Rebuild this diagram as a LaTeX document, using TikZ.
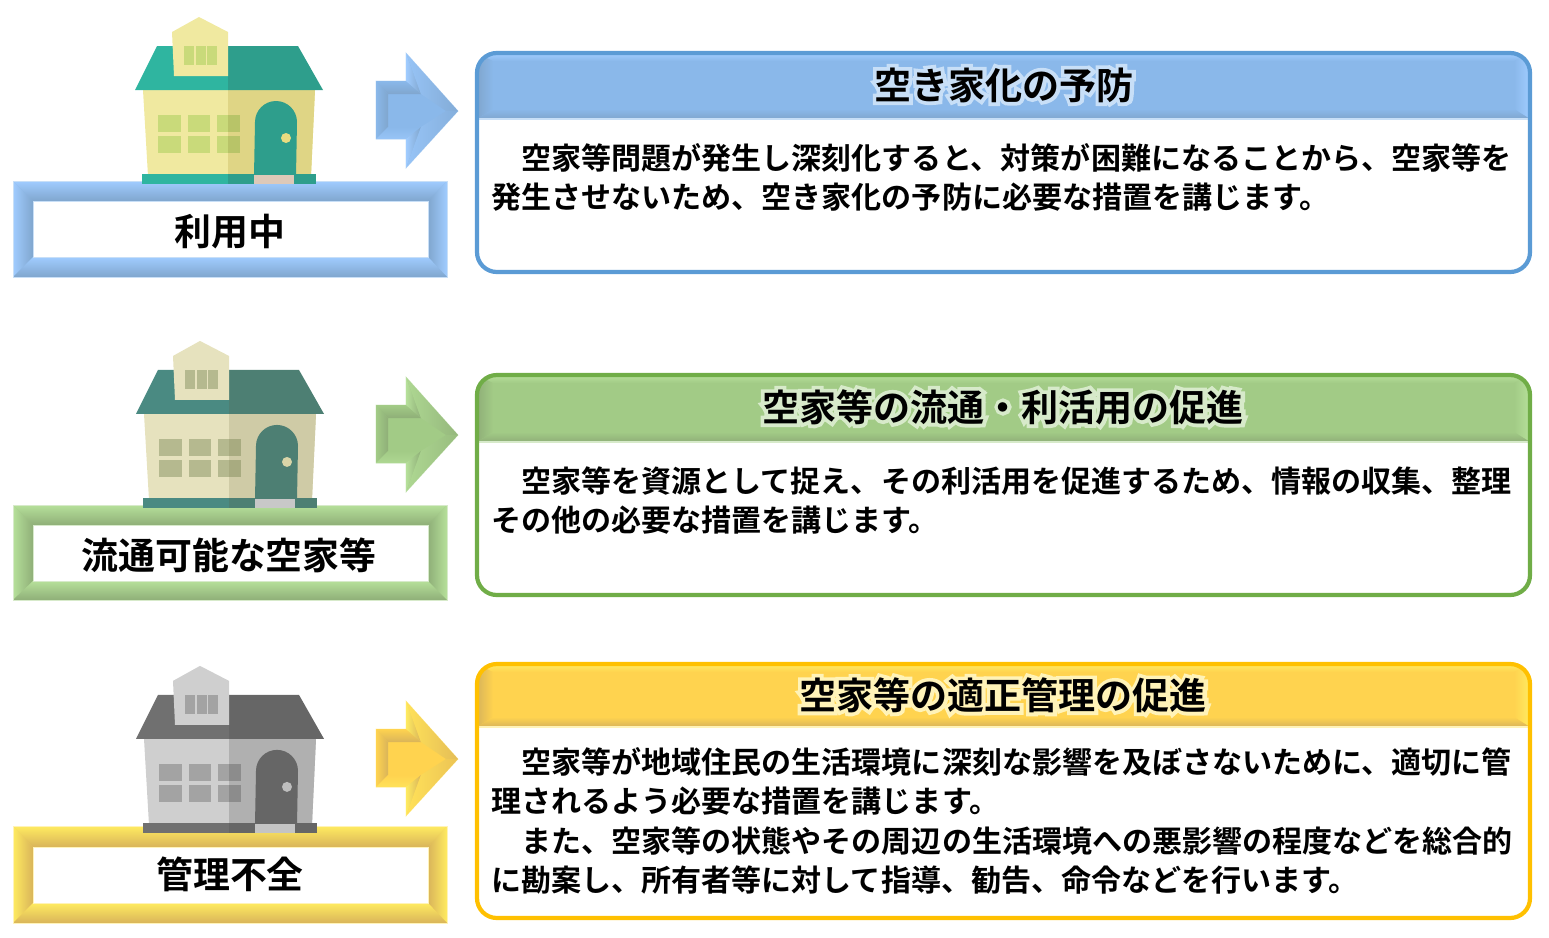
\documentclass[tikz,border=0pt]{standalone}
\usepackage{fontspec}
\setmainfont{Noto Sans CJK JP}[BoldFont={Noto Sans CJK JP Bold}]
\newfontfamily\glowfont{Noto Sans CJK JP Bold}[FakeBold=20]

% Row colours: A blue, B green, C yellow
\definecolor{faceA}{HTML}{8AB8EA}\definecolor{liteA}{HTML}{A0CCFF}
\definecolor{darkA}{HTML}{80A6CE}\definecolor{lineA}{HTML}{5B9BD5}
\definecolor{paleA}{HTML}{C8DFF7}
\definecolor{faceB}{HTML}{A2CB86}\definecolor{liteB}{HTML}{B6E09A}
\definecolor{darkB}{HTML}{8FAF78}\definecolor{lineB}{HTML}{70AD47}
\definecolor{paleB}{HTML}{D7EACA}
\definecolor{faceC}{HTML}{FFD34F}\definecolor{liteC}{HTML}{FFEB60}
\definecolor{darkC}{HTML}{D9B45A}\definecolor{lineC}{HTML}{FFC000}
\definecolor{paleC}{HTML}{FFF3B8}
% House colours
\definecolor{roofA}{HTML}{2FB5A0}\definecolor{roofdA}{HTML}{2E9E8C}
\definecolor{wallA}{HTML}{F0E9A0}\definecolor{walldA}{HTML}{DFD585}
\definecolor{winA}{HTML}{C9DA7A}\definecolor{windA}{HTML}{B8C468}
\definecolor{stepA}{HTML}{DDC9B8}\definecolor{knobA}{HTML}{E8DC80}
\definecolor{roofB}{HTML}{4A8A82}\definecolor{roofdB}{HTML}{4D7F73}
\definecolor{wallB}{HTML}{E6E2BE}\definecolor{walldB}{HTML}{CFCBA6}
\definecolor{winB}{HTML}{B5B98F}\definecolor{windB}{HTML}{A8AB80}
\definecolor{stepB}{HTML}{C8C8C8}\definecolor{knobB}{HTML}{D9D5A8}
\definecolor{roofC}{HTML}{707070}\definecolor{roofdC}{HTML}{666666}
\definecolor{wallC}{HTML}{CFCFCF}\definecolor{walldC}{HTML}{B0B0B0}
\definecolor{winC}{HTML}{A3A3A3}\definecolor{windC}{HTML}{8C8C8C}
\definecolor{stepC}{HTML}{C4C4C4}\definecolor{knobC}{HTML}{BEBEBE}

% #1 row letter
\newcommand{\houseicon}[1]{
  \fill[wall#1] (143,90) -- (315,90) -- (311,176) -- (148,176) -- cycle;
  \fill[walld#1] (228,90) -- (315,90) -- (311,176) -- (228,176) -- cycle;
  \fill[roof#1] (157,46) -- (228,46) -- (228,90) -- (135,90) -- cycle;
  \fill[roofd#1] (228,46) -- (298,46) -- (323,90) -- (228,90) -- cycle;
  \fill[wall#1] (172,32) -- (199,17) -- (228,32) -- (228,76) -- (174,76) -- cycle;
  \foreach \winx in {184,196,207} \fill[win#1] (\winx,46) rectangle +(10,19);
  \foreach \winy in {115,136} {
    \fill[win#1] (158,\winy) rectangle +(23,17);
    \fill[win#1] (188,\winy) rectangle +(22,17);
    \fill[win#1] (217,\winy) rectangle +(11,17);
    \fill[wind#1] (228,\winy) rectangle +(12,17);
  }
  \fill[roofd#1] (254,176) -- (255,122) arc[start angle=180,end angle=0,x radius=21,y radius=-21]
    -- (296,176) -- cycle;
  \fill[knob#1] (286,138) circle (5);
  \fill[roof#1] (142,174) rectangle (228,184);
  \fill[roofd#1] (228,174) rectangle (316,184);
  \fill[step#1] (254,175) rectangle (294,184);
}
% #1 row letter, #2 top, #3 bottom, #4 inner top, #5 inner bottom
\newcommand{\labelframe}[5]{
  \fill[face#1] (13,#2) rectangle (447,#3);
  \shade[top color=lite#1,bottom color=dark#1] (13,#2) -- (447,#2) -- (428,#4) -- (33,#4) -- cycle;
  \shade[left color=lite#1,right color=dark#1] (13,#2) -- (33,#4) -- (33,#5) -- (13,#3) -- cycle;
  \shade[left color=dark#1,right color=lite#1] (447,#2) -- (428,#4) -- (428,#5) -- (447,#3) -- cycle;
  \shade[top color=lite#1,bottom color=dark#1] (13,#3) -- (447,#3) -- (428,#5) -- (33,#5) -- cycle;
  \draw[pale#1,thin] (13,#2) rectangle (447,#3);
  \draw[pale#1,fill=white] (33,#4) rectangle (428,#5);
}
% #1 row letter, #2 vertical shift of the arrow
\newcommand{\bevelarrow}[2]{
  \begin{scope}[yshift=#2*-0.02cm]
    \fill[face#1,draw=pale#1,thin] (376,81) -- (406,81) -- (406,53) -- (458,111) -- (406,168)
      -- (406,139) -- (376,139) -- cycle;
    \shade[top color=face#1,bottom color=dark#1] (376,81) -- (406,81) -- (421,94) -- (388,94) -- cycle;
    \shade[left color=face#1,right color=dark#1] (376,81) -- (388,94) -- (388,127) -- (376,139) -- cycle;
    \shade[top color=face#1,bottom color=lite#1!60!face#1] (376,139) -- (388,127) -- (421,127) -- (406,139) -- cycle;
    \shade[left color=lite#1,right color=dark#1] (406,53) -- (406,81) -- (421,94) -- cycle;
    \shade[left color=lite#1!60!face#1,right color=dark#1!70!face#1] (406,53) -- (421,94) -- (446,111) -- (458,111) -- cycle;
    \shade[left color=lite#1,right color=dark#1] (406,168) -- (406,139) -- (421,127) -- cycle;
    \shade[left color=lite#1!60!face#1,right color=dark#1!50!face#1] (406,168) -- (421,127) -- (446,111) -- (458,111) -- cycle;
  \end{scope}
}
% #1 row letter, #2 top, #3 header bottom, #4 bottom
\newcommand{\panelbox}[4]{
  \begin{scope}
    \clip[rounded corners=11.3pt] (477,#2) rectangle (1530,#4);
    \fill[white] (477,#2) rectangle (1530,#4);
    \fill[face#1] (477,#2) rectangle (1530,#3);
    \shade[top color=lite#1,bottom color=face#1] (477,#2) rectangle (1530,#2+8);
    \shade[left color=dark#1,right color=face#1] (477,#2) -- (493,#2+8) -- (493,#3-10) -- (477,#3) -- cycle;
    \shade[left color=face#1,right color=lite#1] (1530,#2) -- (1514,#2+8) -- (1514,#3-10) -- (1530,#3) -- cycle;
    \shade[top color=face#1,bottom color=dark#1] (477,#3) -- (493,#3-10) -- (1514,#3-10) -- (1530,#3) -- cycle;
    \draw[pale#1,thick] (477,#3) -- (1530,#3);
  \end{scope}
  \draw[line#1,line width=2.4pt,rounded corners=11.3pt] (477,#2) rectangle (1530,#4);
}
% soft edge behind the header titles
\newcommand{\glowtitle}[2]{%
  \leavevmode\rlap{\color{pale#1}\glowfont #2}{\bfseries #2}}

\begin{document}
\begin{tikzpicture}[
  x=0.02cm,y=-0.02cm,
  labeltext/.style={font=\bfseries\fontsize{21pt}{25pt}\selectfont,inner sep=0pt},
  titletext/.style={font=\fontsize{21.1pt}{25pt}\selectfont,inner sep=0pt},
  bodytext/.style={font=\bfseries\fontsize{17.1pt}{22.4pt}\selectfont,anchor=north west,
    align=left,inner sep=0pt},
]
  \useasboundingbox (0,0) rectangle (1549,937);

  % Left column
  \labelframe{A}{181}{277}{201}{257}
  \labelframe{B}{505}{600}{525}{581}
  \labelframe{C}{826}{923}{847}{903}
  \houseicon{A}
  \begin{scope}[xshift=0.02cm,yshift=-6.48cm]\houseicon{B}\end{scope}
  \begin{scope}[xshift=0.02cm,yshift=-12.98cm]\houseicon{C}\end{scope}
  \node[labeltext] (labelA) at (230,231.5) {利用中};
  \node[labeltext] (labelB) at (229,555) {流通可能な空家等};
  \node[labeltext] (labelC) at (230,874) {管理不全};

  % Arrows
  \bevelarrow{A}{0}
  \bevelarrow{B}{324}
  \bevelarrow{C}{648}

  % Right column
  \panelbox{A}{53}{119}{272}
  \panelbox{B}{375}{442}{595}
  \panelbox{C}{664}{727}{918}
  \node[titletext] (titleA) at (1004,85) {\glowtitle{A}{空き家化の予防}};
  \node[titletext] (titleB) at (1003,407) {\glowtitle{B}{空家等の流通・利活用の促進}};
  \node[titletext] (titleC) at (1003,695) {\glowtitle{C}{空家等の適正管理の促進}};

  \node[bodytext] (bodyA) at (491,143) {　空家等問題が発生し深刻化すると、対策が困難になることから、空家等を\\
    発生させないため、空き家化の予防に必要な措置を講じます。};
  \node[bodytext] (bodyB) at (491,466.5) {　空家等を資源として捉え、その利活用を促進するため、情報の収集、整理\\
    その他の必要な措置を講じます。};
  \node[bodytext] (bodyC) at (491,747) {　空家等が地域住民の生活環境に深刻な影響を及ぼさないために、適切に管\\
    理されるよう必要な措置を講じます。\\
    　また、空家等の状態やその周辺の生活環境への悪影響の程度などを総合的\\
    に勘案し、所有者等に対して指導、勧告、命令などを行います。};
\end{tikzpicture}
\end{document}
